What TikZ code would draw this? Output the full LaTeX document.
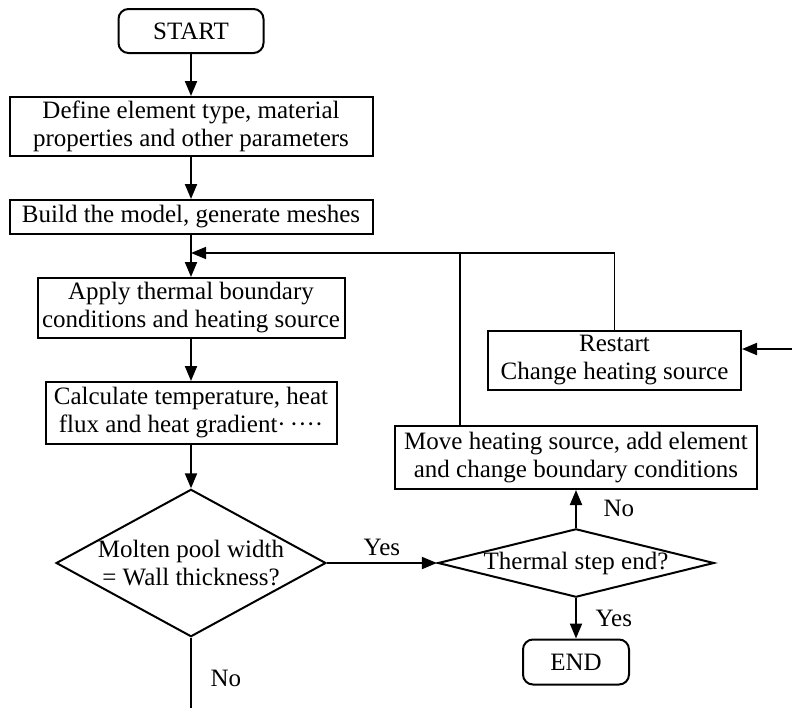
\documentclass[tikz,border=0pt]{standalone}
\usepackage{fontspec}
\setmainfont{Liberation Serif}
\usepackage{tikz}
\usetikzlibrary{arrows,arrows.meta,shapes}
\usetikzlibrary{positioning}
\tikzstyle{block} = [rectangle, draw, line width=1pt, align=center, inner sep=2pt]
\tikzstyle{terminal} = [rectangle, draw, line width=1pt, rounded corners=5pt,
    align=center]
\tikzstyle{decision} = [diamond, draw, line width=1pt, align=center, inner sep=0pt]
\tikzstyle{line} = [-{Triangle[length=7.5pt,width=6pt]}, black, line width=1pt]

\begin{document}
\begin{tikzpicture}[node distance = 2cm, font=\fontsize{12.5}{14}\selectfont]
  \useasboundingbox (0,0) rectangle (396pt,-353.5pt);
  % Place nodes
  \node [terminal, minimum width=72.5pt, minimum height=22pt] (start) 
  at (95.5pt,-15.5pt) {START};
  \node [block, below of=start, node distance=47.75pt, minimum width=181.5pt,
  minimum height=29.5pt] (define) 
  {Define element type, material\\ properties and other parameters};
  \node [block, below of=define, node distance=45.25pt, minimum width=181.5pt,
  minimum height=17pt] (build) 
  {Build the model, generate meshes};
  \node [block, below of=build, node distance=45.5pt, minimum width=153.5pt,
  minimum height=30pt] (apply) 
  {Apply thermal boundary\\ conditions and heating source};
  \node [block, below of=apply, node distance=52.5pt, minimum width=145.5pt,
  minimum height=31pt] (calc) 
  {Calculate temperature, heat\\ flux and heat gradient·\,····};
  \node [decision, below of=calc, node distance=75pt, aspect=1.83] (molten) 
  {Molten pool width\\ = Wall thickness?};
  \node [decision, right of=molten, node distance=192.5pt, aspect=4.04] (thermal) 
  {Thermal step end?};
  \node [block, above of=thermal, node distance=52.75pt, minimum width=181pt,
  minimum height=31.5pt] (move) 
  {Move heating source, add element\\ and change boundary conditions};
  \node [terminal, below of=thermal, node distance=49.5pt, minimum width=53pt,
  minimum height=22.5pt] (end) {END};
  \node [block, above of=move, node distance=48.5pt, xshift=19.25pt,
  minimum width=126.5pt, minimum height=29.5pt] (restart) 
  {Restart\\ Change heating source};
  \coordinate (merge) at ([yshift=-9pt]build.south);
  \coordinate (movetop) at ([xshift=33pt]move.north west);
  \coordinate (restartin) at ([yshift=5.75pt]restart.east);
  \coordinate (input) at ([xshift=25pt]restartin);
  \coordinate (exit) at ([yshift=-36pt]molten.south);
  % Draw edges
  \draw [line] (start) -- (define);
  \draw [line] (define) -- (build);
  \draw [line] (build) -- (apply);
  \draw [line] (apply) -- (calc);
  \draw [line] (calc) -- (molten);
  \draw [line] (molten) -- node [above] {Yes} (thermal);
  \draw [line] (thermal) -- node [right=10pt] {No} (move);
  \draw [line] (thermal) -- node [right=6pt] {Yes} (end);
  \draw [black, line width=1pt] (molten) -- node [right=6pt, pos=0.57] {No} (exit);
  \draw [line, line width=0.8pt] (movetop) |- (merge);
  \draw [black, line width=0.8pt] (restart.north) |- (movetop |- merge);
  \draw [line] (input) -- (restartin);
\end{tikzpicture}
\end{document}
